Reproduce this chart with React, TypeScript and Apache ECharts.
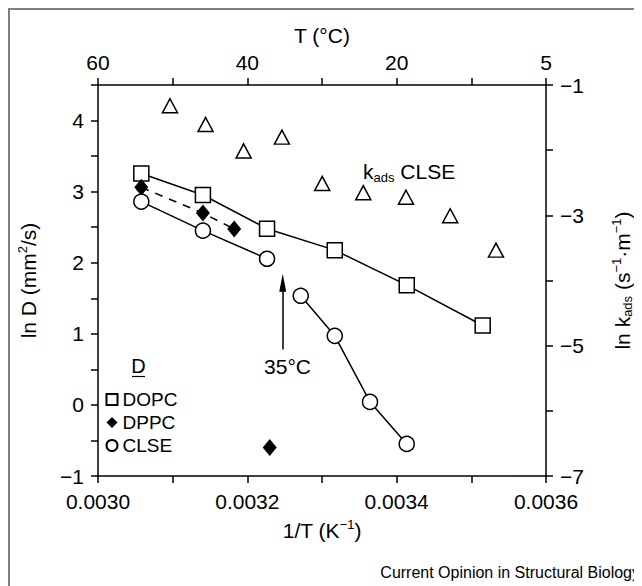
import React, { useEffect, useRef } from "react";
import * as echarts from "echarts";

// Data
const dopc: [number, number][] = [
  [0.003058, 3.256],
  [0.0031405, 2.953],
  [0.0032264, 2.479],
  [0.0033171, 2.177],
  [0.0034135, 1.684],
  [0.0035152, 1.117],
];
const dppcLine: [number, number][] = [
  [0.003058, 3.06],
  [0.0031405, 2.698],
  [0.0031824, 2.474],
];
const dppcOutlier: [number, number][] = [[0.00323, -0.6]];
const clseHigh: [number, number][] = [
  [0.003058, 2.86],
  [0.0031405, 2.451],
  [0.0032264, 2.056],
];
const clseLow: [number, number][] = [
  [0.0032715, 1.535],
  [0.0033171, 0.972],
  [0.0033643, 0.042],
  [0.0034135, -0.549],
];
const kadsClse: [number, number][] = [
  [0.0030964, -1.318],
  [0.0031441, -1.606],
  [0.003195, -2.012],
  [0.0032463, -1.8],
  [0.0033003, -2.51],
  [0.0033553, -2.652],
  [0.0034125, -2.722],
  [0.0034717, -3.007],
  [0.003533, -3.534],
];
// top axis tick labels (T in °C) keyed by 1/T tick index (×1e4)
const topTickLabels: Record<number, string> = { 30: "60", 32: "40", 34: "20", 36: "5" };
const legendNames = ["DOPC", "DPPC", "CLSE"];

const FONT = "'Liberation Sans', Arial, Helvetica, sans-serif";
const BLACK = "#000";

export default function App() {
  const ref = useRef<HTMLDivElement>(null);
  useEffect(() => {
    if (!ref.current) return;
    const chart = echarts.init(ref.current, undefined, { renderer: "svg" });
    const axisCommon = {
      axisLine: { show: true, onZero: false, lineStyle: { color: BLACK, width: 1.5 } },
      axisTick: { show: true, inside: false, length: 7, lineStyle: { color: BLACK, width: 1.5 } },
      splitLine: { show: false },
      axisLabel: { color: BLACK, fontSize: 21, fontFamily: FONT },
      nameTextStyle: { color: BLACK, fontSize: 21, fontFamily: FONT },
    };
    const richName = {
      n: { fontSize: 21, fontFamily: FONT, color: BLACK, lineHeight: 24 },
      sup: { fontSize: 13, fontFamily: FONT, color: BLACK, verticalAlign: "top", lineHeight: 24, padding: [0, 0, 10, 0] },
      sub: { fontSize: 13, fontFamily: FONT, color: BLACK, verticalAlign: "bottom", lineHeight: 24, padding: [8, 0, 0, 0] },
    };
    const marker = { color: "#fff", borderColor: BLACK, borderWidth: 1.5, opacity: 1 };
    const lineStyle = { color: BLACK, width: 1.5 };
    const option: any = {
      animation: false,
      grid: { left: 80, top: 77, right: 86, bottom: 110, containLabel: false },
      xAxis: [
        {
          ...axisCommon,
          type: "value",
          position: "bottom",
          min: 0.003,
          max: 0.0036,
          interval: 0.0001,
          axisLabel: {
            ...axisCommon.axisLabel,
            margin: 15,
            formatter: (v: number) => {
              const n = Math.round(v * 1e4);
              return n % 2 === 0 ? (n / 1e4).toFixed(4) : "";
            },
          },
          name: "{n|1/T (K}{sup|−1}{n|)}",
          nameLocation: "middle",
          nameGap: 42,
          nameTextStyle: { ...axisCommon.nameTextStyle, rich: richName },
        },
        {
          ...axisCommon,
          type: "value",
          position: "top",
          min: 0.003,
          max: 0.0036,
          interval: 0.0001,
          axisLabel: {
            ...axisCommon.axisLabel,
            margin: 12,
            formatter: (v: number) => topTickLabels[Math.round(v * 1e4)] ?? "",
          },
          name: "T (°C)",
          nameLocation: "middle",
          nameGap: 39,
        },
      ],
      yAxis: [
        {
          ...axisCommon,
          type: "value",
          position: "left",
          min: -1,
          max: 4.5,
          interval: 0.5,
          axisLabel: {
            ...axisCommon.axisLabel,
            margin: 14,
            formatter: (v: number) =>
              Math.abs(v - Math.round(v)) < 1e-6 ? String(Math.round(v)).replace("-", "−") : "",
          },
          name: "{n|ln D (mm}{sup|2}{n|/s)}",
          nameLocation: "middle",
          nameRotate: 90,
          nameGap: 58,
          nameTextStyle: { ...axisCommon.nameTextStyle, rich: richName },
        },
        {
          ...axisCommon,
          type: "value",
          position: "right",
          min: -7,
          max: -1,
          interval: 1,
          axisLabel: {
            ...axisCommon.axisLabel,
            margin: 14,
            formatter: (v: number) =>
              Math.abs(Math.round(v)) % 2 === 1 ? String(Math.round(v)).replace("-", "−") : "",
          },
          name: "{n|ln k}{sub|ads}{n| (s}{sup|−1}{n|·m}{sup|−1}{n|)}",
          nameLocation: "middle",
          nameRotate: 90,
          nameGap: 64,
          nameTextStyle: { ...axisCommon.nameTextStyle, rich: richName },
        },
      ],
      legend: {
        data: legendNames,
        orient: "vertical",
        left: 92.5,
        top: 377,
        itemWidth: 11,
        itemHeight: 11,
        itemGap: 4,
        textStyle: { color: BLACK, fontSize: 19, fontFamily: FONT },
        selectedMode: false,
      },
      graphic: [
        {
          type: "rect",
          shape: { x: 1, y: 1, width: 800, height: 800 },
          style: { fill: "none", stroke: "#808080", lineWidth: 2 },
          silent: true,
        },
        {
          type: "text",
          x: 130.5,
          y: 358,
          style: { text: "D", fontSize: 20, fontFamily: FONT, fill: BLACK, textAlign: "center", textVerticalAlign: "middle" },
        },
        {
          type: "line",
          shape: { x1: 124, y1: 368.5, x2: 137, y2: 368.5 },
          style: { stroke: BLACK, lineWidth: 1.2 },
        },
        {
          type: "text",
          right: 2,
          bottom: 6,
          style: { text: "Current Opinion in Structural Biology", fontSize: 16, fontFamily: FONT, fill: BLACK },
        },
      ],
      series: [
        {
          type: "line",
          data: dopc,
          symbol: "none",
          lineStyle,
          z: 2,
          silent: true,
          markLine: {
            silent: true,
            lineStyle: { color: BLACK, width: 1.5, type: "solid" },
            label: { show: false },
            data: [
              [
                { coord: [0.0032474, 0.78], symbol: "none" },
                { coord: [0.0032474, 1.72], symbol: "path://M5 0 L10 20 L0 20 Z", symbolSize: [7, 18] },
              ],
            ],
          },
          markPoint: {
            silent: true,
            data: [
              {
                coord: [0.0032538, 0.537],
                symbol: "circle",
                symbolSize: 1,
                itemStyle: { color: "rgba(0,0,0,0)" },
                label: { show: true, position: "inside", formatter: "35°C", fontSize: 21, fontFamily: FONT, color: BLACK },
              },
              {
                coord: [0.0034167, 3.28],
                symbol: "circle",
                symbolSize: 1,
                itemStyle: { color: "rgba(0,0,0,0)" },
                label: {
                  show: true,
                  position: "inside",
                  formatter: "{n|k}{sub|ads}{n| CLSE}",
                  rich: richName,
                },
              },
            ],
          },
        },
        { type: "line", data: dppcLine, symbol: "none", lineStyle: { ...lineStyle, type: [8, 7] }, z: 2, silent: true },
        { type: "line", data: clseHigh, symbol: "none", lineStyle, z: 2, silent: true },
        { type: "line", data: clseLow, symbol: "none", lineStyle, z: 2, silent: true },
        { name: "DOPC", type: "scatter", data: dopc, symbol: "rect", symbolSize: 15, itemStyle: marker, z: 3 },
        {
          name: "DPPC",
          type: "scatter",
          data: [...dppcLine, ...dppcOutlier],
          symbol: "diamond",
          symbolSize: [14, 17],
          itemStyle: { color: BLACK, opacity: 1 },
          z: 3,
        },
        { name: "CLSE", type: "scatter", data: [...clseHigh, ...clseLow], symbol: "circle", symbolSize: 15, itemStyle: marker, z: 3 },
        {
          name: "kads CLSE",
          type: "scatter",
          yAxisIndex: 1,
          data: kadsClse,
          symbol: "triangle",
          symbolSize: [15, 14],
          itemStyle: marker,
          z: 3,
        },
      ],
    };
    chart.setOption(option);
    return () => chart.dispose();
  }, []);
  return <div ref={ref} style={{ width: 634, height: 578 }} />;
}
